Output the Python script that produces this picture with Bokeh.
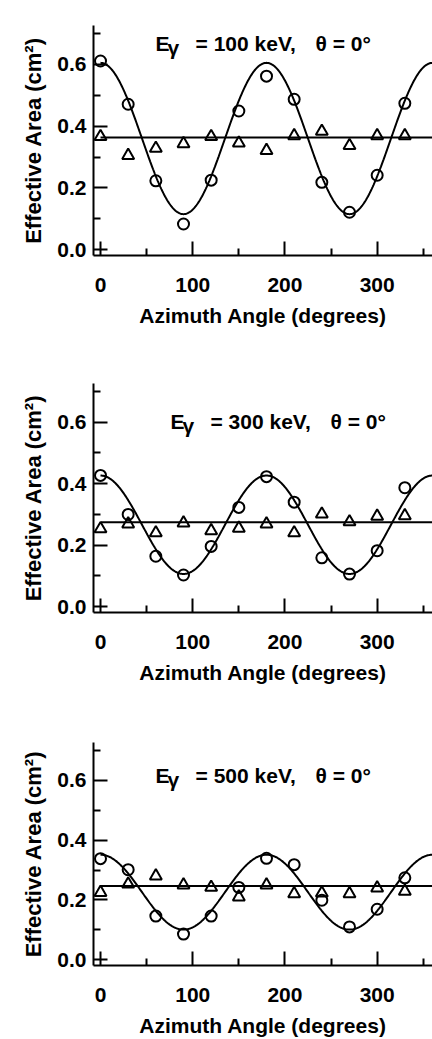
import numpy as np
from bokeh.plotting import figure
from bokeh.layouts import column
from bokeh.models import FixedTicker, PrintfTickFormatter, Range1d
from bokeh.core.properties import value
from bokeh.embed import file_html
from bokeh.resources import INLINE

# ---- data ----
angles = [0, 30, 60, 90, 120, 150, 180, 210, 240, 270, 300, 330]

circ_100 = [0.611, 0.471, 0.223, 0.083, 0.225, 0.449, 0.562, 0.487, 0.218, 0.121, 0.241, 0.474]
tri_100 = [0.366, 0.305, 0.328, 0.343, 0.366, 0.345, 0.321, 0.369, 0.383, 0.337, 0.369, 0.369]

circ_300 = [0.427, 0.300, 0.164, 0.103, 0.196, 0.323, 0.423, 0.340, 0.159, 0.106, 0.182, 0.387]
tri_300 = [0.253, 0.269, 0.240, 0.272, 0.247, 0.255, 0.269, 0.240, 0.301, 0.276, 0.294, 0.296]

circ_500 = [0.338, 0.301, 0.146, 0.086, 0.146, 0.242, 0.339, 0.318, 0.199, 0.110, 0.169, 0.274]
tri_500 = [0.225, 0.253, 0.280, 0.250, 0.242, 0.210, 0.250, 0.221, 0.223, 0.221, 0.240, 0.229]

# fitted modulation curve A + B*cos(2*phi) and flat fit level
fit_mean = [0.360, 0.2665, 0.226]
fit_amp = [0.245, 0.160, 0.125]
flat_level = [0.363, 0.275, 0.247]

energies = ["100", "300", "500"]
title_x = [59.7, 75.9, 59.7]
title_y = [0.667, 0.604, 0.615]

x_ticks = [0, 100, 200, 300]
x_minor = [50, 150, 250, 350]
y_ticks = [0.0, 0.2, 0.4, 0.6]
y_minor = [0.1, 0.3, 0.5, 0.7]

FONT = "Liberation Sans"


def make_panel(i, circ, tri, height, top, frame_h):
    p = figure(width=432, height=height, output_backend="svg", toolbar_location=None,
               x_range=Range1d(-7.6, 360), y_range=Range1d(-0.019, 0.726),
               min_border_left=93, min_border_right=0, min_border_top=top,
               min_border_bottom=height - top - frame_h)
    p.grid.visible = False
    p.outline_line_color = None
    p.background_fill_color = "white"
    p.border_fill_color = "white"

    for ax in (p.xaxis[0], p.yaxis[0]):
        ax.axis_line_width = 2
        ax.axis_line_color = "black"
        ax.major_tick_line_width = 2
        ax.minor_tick_line_width = 2
        ax.major_tick_line_color = "black"
        ax.minor_tick_line_color = "black"
        ax.major_tick_in = 14
        ax.major_tick_out = 0
        ax.minor_tick_in = 7
        ax.minor_tick_out = 0
        ax.major_label_text_font = FONT
        ax.major_label_text_font_size = "21px"
        ax.major_label_text_font_style = "bold"
        ax.major_label_text_color = "black"
        ax.axis_label_text_font = FONT
        ax.axis_label_text_font_style = "bold"
        ax.axis_label_text_color = "black"

    p.xaxis.ticker = FixedTicker(ticks=x_ticks, minor_ticks=x_minor)
    p.yaxis.ticker = FixedTicker(ticks=y_ticks, minor_ticks=y_minor)
    p.yaxis.formatter = PrintfTickFormatter(format="%.1f")
    p.xaxis.axis_label = "Azimuth Angle (degrees)"
    p.yaxis.axis_label = "Effective Area (cm²)"
    p.xaxis.axis_label_text_font_size = "21px"
    p.yaxis.axis_label_text_font_size = "22px"
    p.xaxis.major_label_standoff = 22
    p.xaxis.axis_label_standoff = 9
    p.yaxis.major_label_standoff = 7
    p.yaxis.axis_label_standoff = 8

    # fitted cos(2 phi) curve
    phi = np.linspace(0, 360, 361)
    curve = fit_mean[i] + fit_amp[i] * np.cos(np.radians(2 * phi))
    p.line(phi, curve, line_color="black", line_width=2)
    # flat fit
    p.line([angles[0], 360], [flat_level[i], flat_level[i]], line_color="black", line_width=2)

    p.scatter(angles, circ, marker="circle", size=11, fill_color=None,
              line_color="black", line_width=2)
    p.scatter(angles, tri, marker="triangle", size=12, fill_color=None,
              line_color="black", line_width=2)

    common = dict(text_font=value(FONT), text_font_size="21px", text_font_style="bold",
                  text_color="black", text_baseline="middle", text_align="left")
    tx, ty = [title_x[i]], [title_y[i]]
    p.text(x=tx, y=ty, text=["E"], **common)
    p.text(x=tx, y=ty, text=["γ"], x_offset=12, y_offset=4, **common)
    p.text(x=tx, y=ty, text=["= " + energies[i] + " keV,"], x_offset=40, **common)
    p.text(x=tx, y=ty, text=["θ = 0°"], x_offset=160, **common)
    return p


p1 = make_panel(0, circ_100, tri_100, 366, 25, 230)
p2 = make_panel(1, circ_300, tri_300, 358, 17, 229)
p3 = make_panel(2, circ_500, tri_500, 315, 18, 229)

layout = column(p1, p2, p3, spacing=0)
open("out.html", "w").write(file_html(layout, INLINE))
